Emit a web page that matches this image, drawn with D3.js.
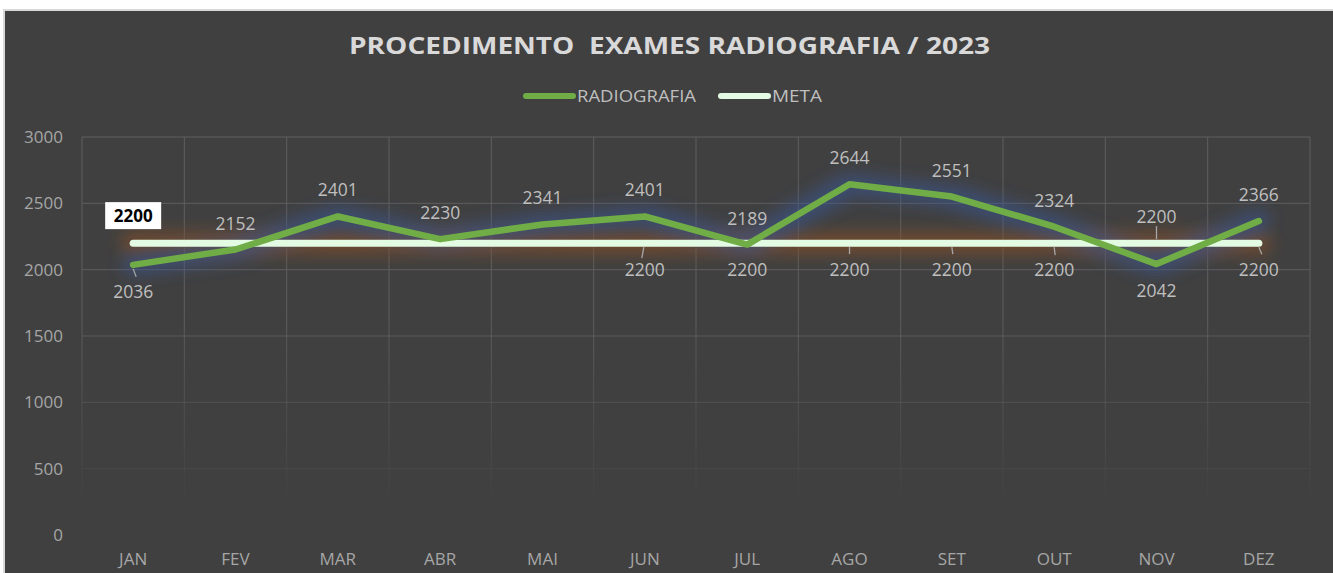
<!DOCTYPE html>
<html><head><meta charset="utf-8">
<script src="https://cdn.jsdelivr.net/npm/d3@7"></script>
<style>body{margin:0;background:#fff;}svg{display:block;}</style>
</head><body>
<script>
const months = ["JAN","FEV","MAR","ABR","MAI","JUN","JUL","AGO","SET","OUT","NOV","DEZ"];
const radiografia = [2036,2152,2401,2230,2341,2401,2189,2644,2551,2324,2042,2366];
const meta = [2200,2200,2200,2200,2200,2200,2200,2200,2200,2200,2200,2200];
const yTicks = [0,500,1000,1500,2000,2500,3000];
const title = "PROCEDIMENTO  EXAMES RADIOGRAFIA / 2023";
const seriesNames = ["RADIOGRAFIA","META"];
// label placement: 1 = above, -1 = below, 0 = hidden, 2 = boxed above
const radioLabelPos = [-1,1,1,1,1,1,1,1,1,1,-1,1];
const metaLabelPos  = [2,0,0,0,0,-1,-1,-1,-1,-1,1,-1];

const W=1333,H=573;
const font = "'Open Sans', sans-serif";
const svg = d3.select("body").append("svg").attr("width",W).attr("height",H);
svg.append("rect").attr("width",W).attr("height",H).attr("fill","#ffffff");
svg.append("rect").attr("x",3).attr("y",9).attr("width",W-3).attr("height",H-9).attr("fill","#d9d9d9");
svg.append("rect").attr("x",5).attr("y",11).attr("width",W-5).attr("height",H-11).attr("fill","#404040");

const defs = svg.append("defs");
function glow(id,color,dil,std,op){
  const f = defs.append("filter").attr("id",id).attr("filterUnits","userSpaceOnUse")
    .attr("x",0).attr("y",0).attr("width",W).attr("height",H);
  f.append("feMorphology").attr("in","SourceAlpha").attr("operator","dilate").attr("radius",dil).attr("result","d");
  f.append("feGaussianBlur").attr("in","d").attr("stdDeviation",std).attr("result","b");
  f.append("feFlood").attr("flood-color",color).attr("flood-opacity",op);
  f.append("feComposite").attr("in2","b").attr("operator","in");
}
glow("glowBlue","#3a5590",7,8,0.6);
glow("glowOrange","#8c5024",7,8,0.65);
const grad = defs.append("linearGradient").attr("id","gridFade").attr("gradientUnits","userSpaceOnUse")
  .attr("x1",0).attr("y1",130).attr("x2",0).attr("y2",530);
grad.append("stop").attr("offset","0").attr("stop-color","#5e5e5e").attr("stop-opacity",1);
grad.append("stop").attr("offset","0.45").attr("stop-color","#5e5e5e").attr("stop-opacity",1);
grad.append("stop").attr("offset","0.95").attr("stop-color","#5e5e5e").attr("stop-opacity",0);
grad.append("stop").attr("offset","1").attr("stop-color","#5e5e5e").attr("stop-opacity",0);

const x = d3.scaleBand().domain(months).range([82,1310]);
const y = d3.scaleLinear().domain([0,3000]).range([535,137]);
const cx = m => x(m)+x.bandwidth()/2;

// gridlines
const g = svg.append("g");
g.selectAll(".hg").data(yTicks).enter().append("line")
  .attr("x1",82).attr("x2",1310).attr("y1",d=>y(d)).attr("y2",d=>y(d))
  .attr("stroke","url(#gridFade)").attr("stroke-width",1);
const vx = months.map(m=>x(m)).concat([1310]);
g.selectAll(".vg").data(vx).enter().append("rect")
  .attr("x",d=>d-0.5).attr("width",1).attr("y",y(3000)).attr("height",y(0)-y(3000))
  .attr("fill","url(#gridFade)");

// axes
const yAxis = svg.append("g").attr("transform","translate(63,0)")
  .call(d3.axisLeft(y).tickValues(yTicks).tickFormat(d3.format("d")).tickSize(0).tickPadding(0));
yAxis.select(".domain").remove();
yAxis.selectAll("text").attr("fill","#a6a6a6").style("font-family",font).style("font-size","17px");
const xAxis = svg.append("g").attr("transform","translate(0,545)")
  .call(d3.axisBottom(x).tickSize(0).tickPadding(8));
xAxis.select(".domain").remove();
xAxis.selectAll("text").attr("fill","#a6a6a6").style("font-family",font).style("font-size","17px");

// title
svg.append("text").attr("x",349).attr("y",54)
  .attr("textLength",641).attr("lengthAdjust","spacingAndGlyphs")
  .attr("fill","#d9d9d9").style("font-family",font).style("font-weight","bold").style("font-size","24px")
  .style("white-space","pre").text(title);

// legend
const leg = svg.append("g");
const legItems = [{n:seriesNames[0],c:"#70ad47",x1:523,tw:119},{n:seriesNames[1],c:"#e2fbe2",x1:718,tw:50}];
legItems.forEach(it=>{
  leg.append("line").attr("x1",it.x1+3).attr("x2",it.x1+50).attr("y1",96).attr("y2",96)
    .attr("stroke",it.c).attr("stroke-width",6).attr("stroke-linecap","round");
  leg.append("text").attr("x",it.x1+54).attr("y",102).attr("fill","#bfbfbf")
    .attr("textLength",it.tw).attr("lengthAdjust","spacingAndGlyphs")
    .style("font-family",font).style("font-size","16px").text(it.n);
});

// lines
const line = d3.line().x((d,i)=>cx(months[i])).y(d=>y(d));
svg.append("path").datum(meta).attr("d",line).attr("fill","none").attr("stroke","#fff")
  .attr("stroke-width",7).attr("stroke-linecap","round").attr("filter","url(#glowOrange)");
svg.append("path").datum(radiografia).attr("d",line).attr("fill","none").attr("stroke","#fff")
  .attr("stroke-width",6).attr("stroke-linecap","round").attr("stroke-linejoin","round").attr("filter","url(#glowBlue)");
svg.append("path").datum(meta).attr("d",line).attr("fill","none").attr("stroke","#e2fbe2")
  .attr("stroke-width",7).attr("stroke-linecap","round");
svg.append("path").datum(radiografia).attr("d",line).attr("fill","none").attr("stroke","#70ad47")
  .attr("stroke-width",6.5).attr("stroke-linecap","round").attr("stroke-linejoin","round");

// data labels
const lab = svg.append("g").style("font-family",font).style("font-size","17.5px").attr("fill","#bfbfbf");
function addLabel(v,i,pos){
  if(pos===0) return;
  const px = cx(months[i]), py = y(v);
  if(pos===2){
    lab.append("rect").attr("x",px-28).attr("y",py-41).attr("width",56).attr("height",27).attr("fill","#ffffff");
    lab.append("text").attr("x",px).attr("y",py-21).attr("text-anchor","middle").attr("fill","#000")
      .style("font-weight","bold").style("font-size","17px").text(v);
    return;
  }
  const ly = pos>0 ? py-26 : py+27;
  lab.append("text").attr("x",px).attr("y",ly+6).attr("text-anchor","middle").text(v);
}
radiografia.forEach((v,i)=>addLabel(v,i,radioLabelPos[i]));
metaLabelPos.forEach((p,i)=>addLabel(meta[i],i,p));

// leader lines
const leaders = [
  {s:"r",i:0,dx1:0,dy1:4,dx2:3,dy2:12},
  {s:"m",i:5,dx1:-1,dy1:4,dx2:-3,dy2:15},
  {s:"m",i:7,dx1:0,dy1:4,dx2:0,dy2:11},
  {s:"m",i:8,dx1:0,dy1:4,dx2:1,dy2:11},
  {s:"m",i:9,dx1:0,dy1:4,dx2:1,dy2:12},
  {s:"m",i:10,dx1:0,dy1:-4,dx2:0,dy2:-17},
  {s:"m",i:11,dx1:0,dy1:4,dx2:3,dy2:11}
];
leaders.forEach(l=>{
  const v = l.s==="r"?radiografia[l.i]:meta[l.i];
  const px=cx(months[l.i]), py=y(v);
  svg.append("line").attr("x1",px+l.dx1).attr("y1",py+l.dy1).attr("x2",px+l.dx2).attr("y2",py+l.dy2)
    .attr("stroke","#a6a6a6").attr("stroke-width",1.3);
});
</script>
</body></html>
